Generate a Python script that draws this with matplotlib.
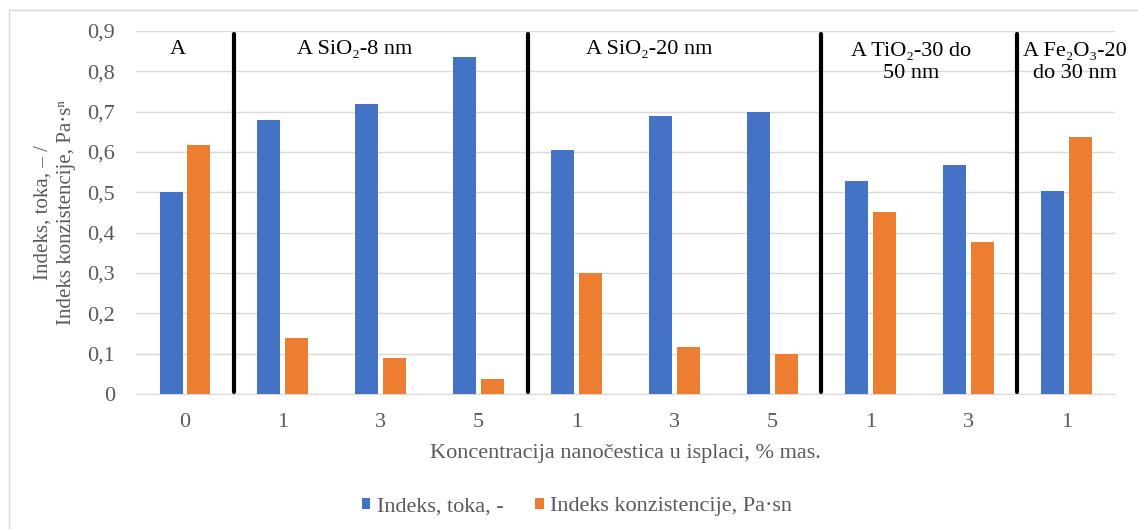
import matplotlib
matplotlib.use("Agg")
import matplotlib.pyplot as plt
import numpy as np
from matplotlib.patches import Rectangle

plt.rcParams['font.family'] = ['Liberation Serif', 'DejaVu Serif']

conc = ['0', '1', '3', '5', '1', '3', '5', '1', '3', '1']
indeks_toka = [0.50, 0.68, 0.72, 0.836, 0.605, 0.69, 0.698, 0.527, 0.568, 0.503]
indeks_konz = [0.617, 0.138, 0.089, 0.036, 0.30, 0.117, 0.098, 0.45, 0.378, 0.637]
groups = ['A', 'A SiO₂-8 nm', 'A SiO₂-20 nm', 'A TiO₂-30 do\n50 nm', 'A Fe₂O₃-20\ndo 30 nm']
group_span = [(0, 0), (1, 3), (4, 6), (7, 8), (9, 9)]

blue = '#4472c4'
orange = '#ed7d31'
grey = '#595959'

fig = plt.figure(figsize=(11.38, 5.29), dpi=100)
ax = fig.add_axes([0.1195, 0.2552, 0.8605, 0.6862])

x = np.arange(len(conc))
w = 0.235
ax.bar(x - 0.142, indeks_toka, w, color=blue, label='Indeks, toka, -', zorder=3)
ax.bar(x + 0.142, indeks_konz, w, color=orange, label='Indeks konzistencije, Pa·sn', zorder=3)

ax.set_xlim(-0.5, len(conc) - 0.5)
ax.set_ylim(0, 0.9)
yt = np.arange(0, 0.91, 0.1)
ax.set_yticks(yt)
ax.set_yticklabels(['0' if v == 0 else ('%.1f' % v).replace('.', ',') for v in yt])
ax.set_xticks(x)
ax.set_xticklabels(conc)
ax.tick_params(length=0, labelsize=16, colors=grey)
ax.tick_params(axis='x', pad=14)
ax.tick_params(axis='y', pad=15)
ax.grid(axis='y', color='#d9d9d9', lw=1, zorder=0)
for s in ['top', 'right', 'left']:
    ax.spines[s].set_visible(False)
ax.spines['bottom'].set_color('#d9d9d9')

# crne linije izmedju grupa
for a, b in group_span[:-1]:
    ax.plot([b + 0.5, b + 0.5], [0.005, 0.893], color='black', lw=3, zorder=4, solid_capstyle='round')

label_x = [-0.07, 1.73, 4.74, 7.42, 9.09]
for name, lx in zip(groups, label_x):
    yy = 0.8536 if '\n' not in name else 0.8226
    ax.text(lx, yy, name, ha='center', va='center', fontsize=16, linespacing=1.2, zorder=5)

ax.set_xlabel('Koncentracija nanočestica u isplaci, % mas.', fontsize=16, color=grey, labelpad=8)
ax.set_ylabel('Indeks, toka, – /\nIndeks konzistencije, Pa·sⁿ', fontsize=15, color=grey, labelpad=8, linespacing=1.35)

fig.legend(loc='center', bbox_to_anchor=(0.507, 0.042), ncol=2, frameon=False, fontsize=16,
           handlelength=0.4, handleheight=0.4, handletextpad=0.3, columnspacing=1.4, labelcolor=grey)

fig.patches.append(Rectangle((9 / 1138, -0.1), 1.2, 1 - 10 / 529 + 0.1, transform=fig.transFigure,
                             fill=False, edgecolor='#d9d9d9', lw=1))

fig.savefig('out.png', dpi=100)
